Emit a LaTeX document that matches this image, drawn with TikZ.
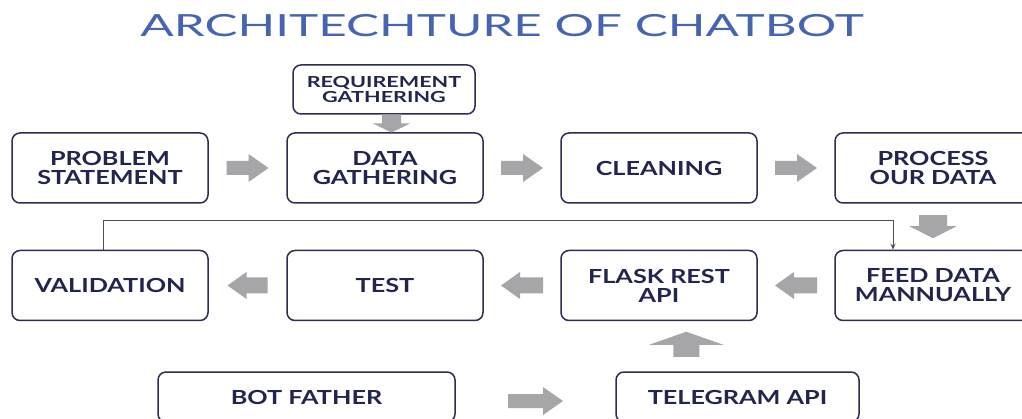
\documentclass[tikz,border=0pt]{standalone}
\usepackage{fontspec}
\setmainfont{Lato}
\newfontfamily\boxfont[FakeStretch=1.3]{Lato}
\newfontfamily\smallboxfont[FakeStretch=1.42]{Lato}
\newfontfamily\headfont[FakeStretch=1.62]{Lato}
\usetikzlibrary{calc,arrows.meta}

\definecolor{headblue}{RGB}{70,100,176}
\definecolor{boxline}{RGB}{44,46,80}
\definecolor{boxtext}{RGB}{34,37,78}
\definecolor{arrowfill}{RGB}{166,166,168}
\definecolor{linkgray}{RGB}{80,80,84}

\tikzset{
  stage/.style={draw=boxline, line width=1.5pt, rounded corners=8pt, fill=white,
    minimum width=196pt, minimum height=70pt, inner sep=0pt, align=center,
    text=boxtext, font=\boxfont\bfseries\fontsize{19.4}{19}\selectfont},
  smallstage/.style={stage, minimum width=182pt, minimum height=49pt,
    font=\smallboxfont\bfseries\fontsize{15.2}{15}\selectfont},
  link/.style={draw=linkgray, line width=1pt, -{Stealth[length=6pt,width=5pt]}},
  % block arrow pointing right: total length / head length / shaft width / head width
  pics/barrow/.style args={#1/#2/#3/#4}{code={
    \fill[arrowfill] (-#1/2,-#3/2) -- (#1/2-#2,-#3/2) -- (#1/2-#2,-#4/2) -- (#1/2,0)
      -- (#1/2-#2,#4/2) -- (#1/2-#2,#3/2) -- (-#1/2,#3/2) -- cycle;
  }}
}

\begin{document}
\begin{tikzpicture}[x=1pt,y=-1pt]
\clip (0,0) rectangle (1022,419);
\fill[white] (0,0) rectangle (1022,419);

% heading
\node[text=headblue, font=\headfont\fontsize{30.5}{30}\selectfont, inner sep=0pt] (title) at (502,26) {ARCHITECHTURE OF CHATBOT};

% first row
\node[stage] (ps) at (110,168) {PROBLEM\\STATEMENT};
\node[stage] (dg) at (385,168) {DATA\\GATHERING};
\node[stage] (cl) at (659,168) {CLEANING};
\node[stage] (pd) at (933,168) {PROCESS\\OUR DATA};
\node[smallstage] (rg) at (384,89.5) {REQUIREMENT\\GATHERING};

% second row
\node[stage] (va) at (110,285.5) {VALIDATION};
\node[stage] (te) at (385,285.5) {TEST};
\node[stage] (fl) at (659,285.5) {FLASK REST\\API};
\node[stage] (fd) at (933,285.5) {FEED DATA\\MANNUALLY};

% bottom row
\node[stage, minimum width=297pt, minimum height=50pt] (bf) at (306.5,397) {BOT FATHER};
\node[stage, minimum width=243pt, minimum height=50pt] (tg) at (737.5,397) {TELEGRAM API};

% block arrows between stages
\pic at ($(ps.east)!0.5!(dg.west)$) {barrow=42/20/14/28};
\pic at ($(dg.east)!0.5!(cl.west)$) {barrow=42/20/14/28};
\pic at ($(cl.east)!0.5!(pd.west)$) {barrow=42/20/14/28};
\pic[rotate=-90] at ($(rg.south)!0.5!(dg.north)+(7,0)$) {barrow=18/9/19/37};
\pic[rotate=-90] at ($(pd.south)!0.5!(fd.north)$) {barrow=23/12/28/47};
\pic[rotate=180] at ($(fd.west)!0.5!(fl.east)$) {barrow=42/19/16/27};
\pic[rotate=180] at ($(fl.west)!0.5!(te.east)$) {barrow=42/19/16/27};
\pic[rotate=180] at ($(te.west)!0.5!(va.east)$) {barrow=40/19/16/27};
\pic[rotate=90] at ($(fl.south)!0.5!(tg.north)+(-12,-2)$) {barrow=25/13/26/74};
\pic at ($(bf.east)!0.5!(tg.west)+(0,4)$) {barrow=55/20/14/28};

% feedback line from validation back to the feeding stage
\coordinate (k1) at (103,221);
\coordinate (k2) at (893,221);
\draw[link] (va.north -| k1) -- (k1) -- (k2) -- (k2 |- fd.north);
\end{tikzpicture}
\end{document}
